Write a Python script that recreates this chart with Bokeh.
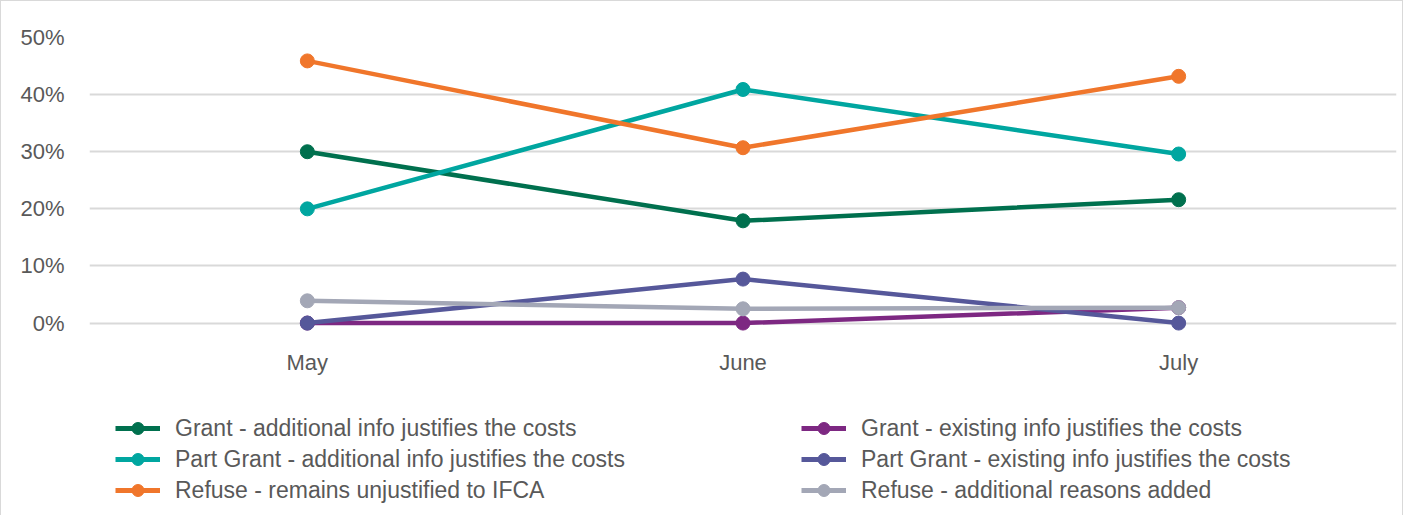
from bokeh.plotting import figure
from bokeh.models import Legend, LegendItem, FactorRange, Range1d, NumeralTickFormatter, FixedTicker, Column
from bokeh.embed import file_html
from bokeh.resources import INLINE

months = ["May", "June", "July"]

grant_additional = [0.30, 0.179, 0.216]
grant_existing = [0.0, 0.0, 0.027]
part_additional = [0.20, 0.409, 0.296]
part_existing = [0.0, 0.077, 0.0]
refuse_unjustified = [0.459, 0.307, 0.432]
refuse_additional = [0.039, 0.025, 0.027]

series_names = [
    "Grant - additional info justifies the costs",
    "Grant - existing info justifies the costs",
    "Part Grant - additional info justifies the costs",
    "Part Grant - existing info justifies the costs",
    "Refuse - remains unjustified to IFCA",
    "Refuse - additional reasons added",
]
series_values = [grant_additional, grant_existing, part_additional,
                 part_existing, refuse_unjustified, refuse_additional]
series_colors = ["#00704E", "#7D2882", "#00A6A0", "#56589A", "#F0762B", "#A3A7B6"]

y_ticks = [0.0, 0.1, 0.2, 0.3, 0.4, 0.5]

FONT = "Liberation Sans"
TXT = "#595959"
W = 1401

p = figure(x_range=FactorRange(*months, range_padding=0), y_range=Range1d(-0.02, 0.5),
           width=W, height=382, output_backend="svg", toolbar_location=None,
           min_border_left=88, min_border_right=6, min_border_top=36, min_border_bottom=49)
p.x_range.range_padding = 0
p.outline_line_color = None

p.yaxis.ticker = FixedTicker(ticks=y_ticks)
p.yaxis.formatter = NumeralTickFormatter(format="0%")
p.yaxis.axis_line_color = None
p.yaxis.major_tick_line_color = None
p.yaxis.minor_tick_line_color = None
p.yaxis.major_label_standoff = 19
p.yaxis.major_label_text_font = FONT
p.yaxis.major_label_text_font_size = "22px"
p.yaxis.major_label_text_color = TXT

p.xaxis.axis_line_color = None
p.xaxis.major_tick_line_color = None
p.xaxis.major_label_standoff = 9
p.xaxis.major_label_text_font = FONT
p.xaxis.major_label_text_font_size = "22px"
p.xaxis.major_label_text_color = TXT

p.xgrid.grid_line_color = None
p.ygrid.grid_line_color = "#D9D9D9"
p.ygrid.grid_line_width = 2

for name, vals, col in zip(series_names, series_values, series_colors):
    p.line(months, vals, line_color=col, line_width=4.5)
    p.scatter(months, vals, size=14, fill_color=col, line_color=col)

# legend panel below the chart (series drawn outside its visible y range, only the legend shows)
lf = figure(width=W, height=135, output_backend="svg", toolbar_location=None,
            x_range=FactorRange(*months), y_range=Range1d(1, 2),
            min_border=0, x_axis_location=None, y_axis_location=None)
lf.outline_line_color = None
lf.xgrid.grid_line_color = None
lf.ygrid.grid_line_color = None

items = {}
for name, vals, col in zip(series_names, series_values, series_colors):
    l = lf.line(months, vals, line_color=col, line_width=5)
    c = lf.scatter(months, vals, size=12, fill_color=col, line_color=col)
    items[name] = LegendItem(label=name, renderers=[l, c])

order = [0, 2, 4, 1, 3, 5]
legend = Legend(items=[items[series_names[i]] for i in order], ncols=2, nrows=3,
                orientation="vertical", location=(26, 13),
                label_text_font=FONT, label_text_font_size="23px", label_text_color=TXT,
                glyph_width=45, glyph_height=30, label_standoff=15,
                label_height=22, label_width=625, spacing=1,
                border_line_color=None, background_fill_alpha=0,
                margin=0, padding=0)
lf.add_layout(legend, "center")

layout = Column(p, lf, styles={"border": "1.5px solid #D9D9D9"})

open("out.html", "w").write(file_html(layout, INLINE))
